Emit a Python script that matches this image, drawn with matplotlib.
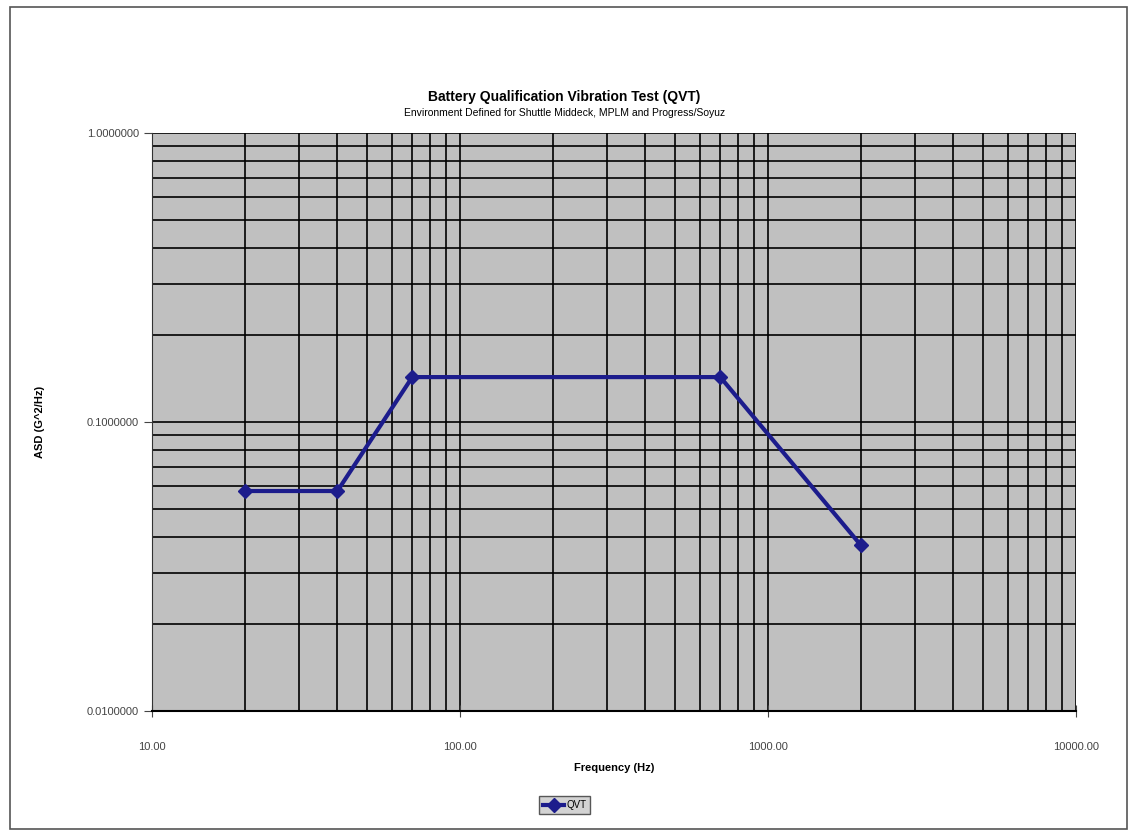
import numpy as np
import matplotlib.pyplot as plt
from matplotlib.patches import Rectangle
from matplotlib.ticker import FixedLocator, FuncFormatter, LogLocator, NullFormatter

# QVT profile
freq_hz = [20, 40, 70, 700, 2000]
asd_g2hz = [0.0577, 0.0577, 0.143, 0.143, 0.0375]
series_name = "QVT"

title = "Battery Qualification Vibration Test (QVT)"
subtitle = "Environment Defined for Shuttle Middeck, MPLM and Progress/Soyuz"

plt.rcParams["font.family"] = ["Liberation Sans", "DejaVu Sans"]

fig = plt.figure(figsize=(11.29, 8.32), dpi=100)
fig.patch.set_facecolor("white")
fig.patches.append(Rectangle((0.009, 0.004), 0.989, 0.988, transform=fig.transFigure,
                             fill=False, edgecolor="#555555", linewidth=1.2))

ax = fig.add_axes([0.1346, 0.1454, 0.8185, 0.6948])
ax.set_facecolor("#c0c0c0")
ax.set_xscale("log")
ax.set_yscale("log")
ax.set_xlim(10, 10000)
ax.set_ylim(0.01, 1)

ax.xaxis.set_major_locator(FixedLocator([10, 100, 1000, 10000]))
ax.yaxis.set_major_locator(FixedLocator([0.01, 0.1, 1]))
ax.xaxis.set_minor_locator(LogLocator(base=10, subs=np.arange(2, 10)))
ax.yaxis.set_minor_locator(LogLocator(base=10, subs=np.arange(2, 10)))
ax.xaxis.set_minor_formatter(NullFormatter())
ax.yaxis.set_minor_formatter(NullFormatter())
ax.xaxis.set_major_formatter(FuncFormatter(lambda v, p: f"{v:.2f}"))
ax.yaxis.set_major_formatter(FuncFormatter(lambda v, p: f"{v:.7f}"))

ax.grid(True, which="both", color="black", linewidth=1.2)
ax.set_axisbelow(True)
for side in ["top", "right"]:
    ax.spines[side].set_visible(False)
ax.spines["left"].set_color("#333333")
ax.spines["bottom"].set_color("black")
ax.spines["bottom"].set_linewidth(1.5)

ax.tick_params(which="minor", length=0)
ax.tick_params(axis="y", which="major", direction="out", length=6, labelsize=8, colors="#444444")
ax.tick_params(axis="x", which="major", direction="inout", length=8, labelsize=8, colors="#444444", pad=18)

ax.plot(freq_hz, asd_g2hz, color="#1c1c8c", linewidth=3, marker="D", markersize=7,
        label=series_name, zorder=5)

ax.set_xlabel("Frequency (Hz)", fontsize=8, fontweight="bold", labelpad=8)
ax.set_ylabel("ASD (G^2/Hz)", fontsize=8, fontweight="bold", labelpad=30)

fig.text(0.5, 0.883, title, ha="center", va="center", fontsize=10, fontweight="bold")
fig.text(0.5, 0.864, subtitle, ha="center", va="center", fontsize=7.5)

leg = fig.legend(loc="center", bbox_to_anchor=(0.5, 0.032), fontsize=7, frameon=True,
                 fancybox=False, handlelength=2.2, borderpad=0.4, handletextpad=0.2)
leg.get_frame().set_facecolor("#c8c8c8")
leg.get_frame().set_edgecolor("#333333")

fig.savefig("out.png", dpi=100)
